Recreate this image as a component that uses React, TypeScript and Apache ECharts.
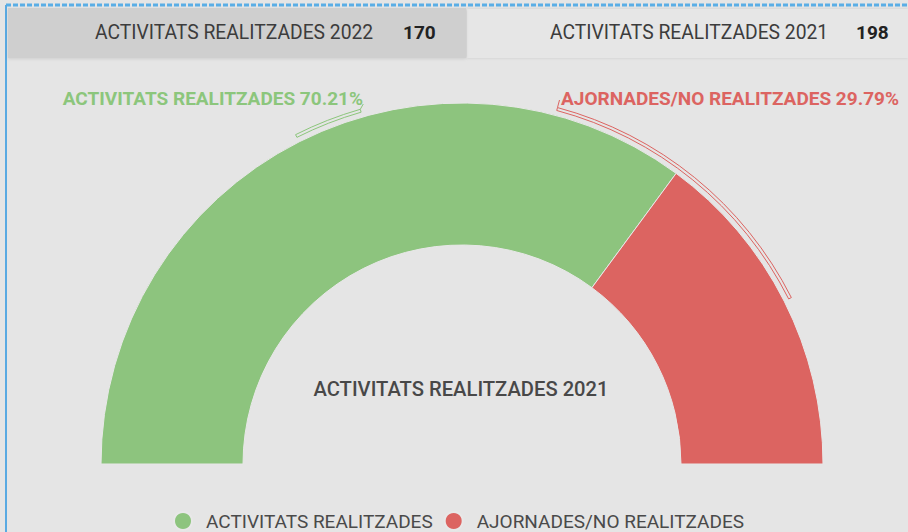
import React, { useEffect, useRef } from "react";
import * as echarts from "echarts";

const categories = ["ACTIVITATS REALITZADES", "AJORNADES/NO REALITZADES"];
const values = [33, 14];
const colors = ["#8dc47e", "#dc6461"];
const headerLabels = ["ACTIVITATS REALITZADES 2022", "ACTIVITATS REALITZADES 2021"];
const headerValues = [170, 198];
const centerTitle = "ACTIVITATS REALITZADES 2021";

export default function App() {
  const ref = useRef<HTMLDivElement>(null);
  useEffect(() => {
    if (!ref.current) return;
    const chart = echarts.init(ref.current, undefined, { renderer: "svg" });
    const cx = 462;
    const cy = 464;
    const rIn = 219;
    const rOut = 361;
    const total = values.reduce((a, b) => a + b, 0);
    const pct = values.map((v) => (v / total) * 100);
    const greenMid = 180 - (pct[0] / 100) * 90;
    const redMid = ((pct[1] / 100) * 180) / 2;
    const deg = Math.PI / 180;
    const greenLabelAng = 106;
    const redLabelAng = 75;
    const br0 = 366;
    const br1 = 369;
    const pt = (a: number, r: number) => [cx + r * Math.cos(a * deg), cy - r * Math.sin(a * deg)];
    const gP = pt(greenLabelAng, br1);
    const rP = pt(redLabelAng, br1);

    const font = "Roboto, 'Noto Sans', sans-serif";

    chart.setOption({
      animation: false,
      backgroundColor: "#e5e5e5",
      legend: {
        data: categories,
        left: 168,
        top: 506,
        icon: "circle",
        itemWidth: 18,
        itemHeight: 18,
        itemGap: 11,
        textStyle: { fontFamily: font, fontSize: 19, color: "#4a4a4a", padding: [0, 0, 0, 9] },
      },
      series: [
        {
          type: "pie",
          center: [cx, cy],
          radius: [rIn, rOut],
          startAngle: 180,
          endAngle: 0,
          silent: true,
          label: { show: false },
          labelLine: { show: false },
          itemStyle: { borderColor: "#e8e8e8", borderWidth: 1 },
          data: categories.map((c, i) => ({ name: c, value: values[i], itemStyle: { color: colors[i] } })),
        },
      ],
      graphic: [
        { type: "line", shape: { x1: 6, y1: 5, x2: 908, y2: 5 }, style: { stroke: "#5aaee6", lineWidth: 3, lineDash: [5, 2] } },
        { type: "line", shape: { x1: 6, y1: 5, x2: 6, y2: 532 }, style: { stroke: "#5aaae2", lineWidth: 2 } },
        { type: "rect", shape: { x: 467, y: 9, width: 441, height: 49 }, style: { fill: "#e6e6e6", shadowBlur: 3, shadowColor: "rgba(0,0,0,0.12)" } },
        { type: "rect", shape: { x: 8, y: 8, width: 458, height: 50 }, style: { fill: "#cfcfcf", shadowBlur: 3, shadowColor: "rgba(0,0,0,0.10)", shadowOffsetY: 1 } },
        { type: "text", x: 95, y: 32, style: { text: headerLabels[0], font: `400 19.3px ${font}`, fill: "#3c3c3c", textVerticalAlign: "middle" } },
        { type: "text", x: 403, y: 32, style: { text: String(headerValues[0]), font: `700 19px ${font}`, fill: "#222", textVerticalAlign: "middle" } },
        { type: "text", x: 550, y: 32, style: { text: headerLabels[1], font: `400 19.3px ${font}`, fill: "#3c3c3c", textVerticalAlign: "middle" } },
        { type: "text", x: 856, y: 32, style: { text: String(headerValues[1]), font: `700 19px ${font}`, fill: "#222", textVerticalAlign: "middle" } },
        { type: "text", x: 461, y: 389, style: { text: centerTitle, font: `500 20.2px ${font}`, fill: "#484848", textAlign: "center", textVerticalAlign: "middle" } },
        { type: "text", x: 363, y: 98, style: { text: `${categories[0]} ${pct[0].toFixed(2)}%`, font: `700 19px ${font}`, fill: "#8cc67c", textAlign: "right", textVerticalAlign: "middle" } },
        { type: "text", x: 561, y: 98, style: { text: `${categories[1]} ${pct[1].toFixed(2)}%`, font: `700 19px ${font}`, fill: "#dc6461", textAlign: "left", textVerticalAlign: "middle" } },
        {
          type: "sector",
          shape: { cx, cy, r0: br0, r: br1, startAngle: -greenMid * deg, endAngle: -greenLabelAng * deg, clockwise: true },
          style: { fill: "none", stroke: "#8cc67c", lineWidth: 1 },
        },
        { type: "line", shape: { x1: gP[0], y1: gP[1], x2: gP[0] + 3, y2: 104 }, style: { stroke: "#8cc67c", lineWidth: 1 } },
        {
          type: "sector",
          shape: { cx, cy, r0: br0, r: br1, startAngle: -redLabelAng * deg, endAngle: -redMid * deg, clockwise: true },
          style: { fill: "none", stroke: "#dc6461", lineWidth: 1 },
        },
        { type: "line", shape: { x1: rP[0], y1: rP[1], x2: rP[0] + 2, y2: 100 }, style: { stroke: "#dc6461", lineWidth: 1 } },
      ],
    });
    return () => chart.dispose();
  }, []);
  return <div ref={ref} style={{ position: "fixed", left: 0, top: 0, width: 908, height: 532 }} />;
}
